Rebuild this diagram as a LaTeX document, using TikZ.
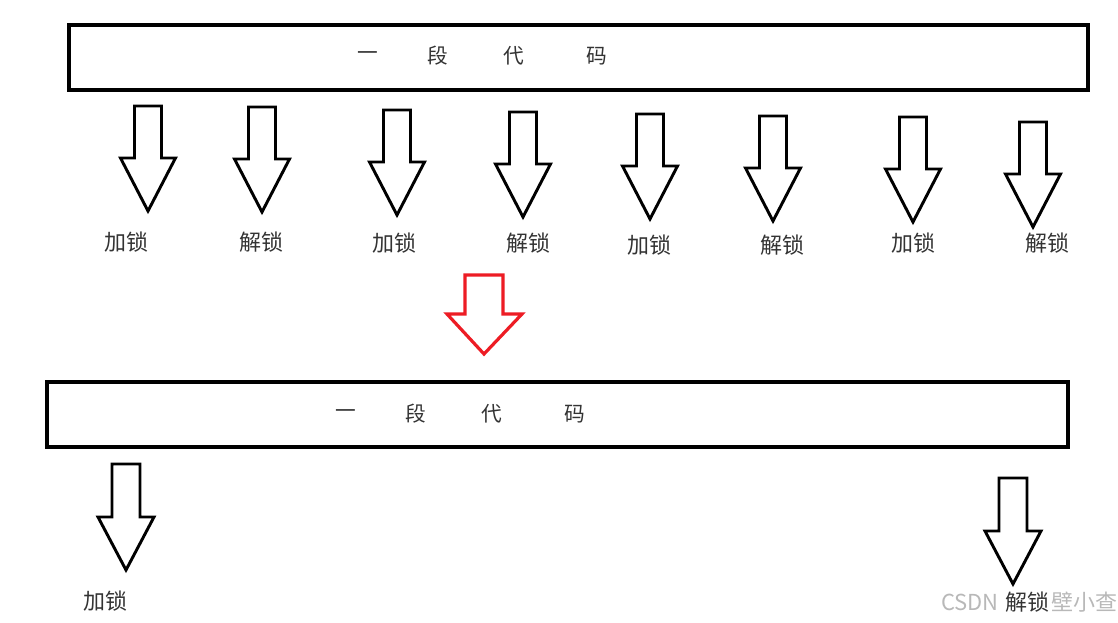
\documentclass[tikz,border=0pt]{standalone}
\usepackage{fontspec}
\newfontfamily\cjk{Noto Sans CJK SC}
\usetikzlibrary{positioning}
\definecolor{LockRed}{RGB}{237,28,36}
\tikzset{
  codebox/.style={draw=black,line width=3pt,minimum height=48.75pt,inner sep=0pt},
  codechar/.style={font=\cjk\fontsize{15.5}{15.5}\selectfont,text=black!80,inner sep=0pt},
  lockarrow/.style={draw=black,line width=2.2pt,line join=miter},
  turnarrow/.style={draw=LockRed,line width=2.4pt,line join=miter},
  locklabel/.style={font=\cjk\fontsize{16.5}{16.5}\selectfont,text=black!80,inner sep=0pt},
  wmtext/.style={font=\cjk\fontsize{16.5}{16.5}\selectfont,text=black!28,inner sep=0pt},
}
\begin{document}
\begin{tikzpicture}[x=0.75pt,y=-0.75pt]
  \useasboundingbox (0,0) rectangle (1118,622);

  % upper code block, locked piece by piece
  \node[codebox,minimum width=764.25pt] (code1) at (578.5,57.5) {};
  \foreach \x/\c in {368/一,438/段,514/代,597/码}
    \node[codechar] (c1\x) at (\x,56) {\c};

  \foreach \i/\x/\t/\lx/\ly/\txt in {1/148/106/126/242/加锁,2/262/107/261/242/解锁,
      3/397/110/394/243/加锁,4/523/112/528/243/解锁,5/650/114/649/245/加锁,
      6/773/116/782/245/解锁,7/913/117/913/243/加锁,8/1033/122/1047/243/解锁}
  {
    \draw[lockarrow] (\x-13.5,\t) -- (\x+13.5,\t) -- (\x+13.5,\t+52)
      -- (\x+27.5,\t+52) -- (\x,\t+105) -- (\x-27.5,\t+52) -- (\x-13.5,\t+52) -- cycle;
    \node[locklabel] (top\i) at (\lx,\ly) {\txt};
  }

  % red arrow between the two blocks
  \draw[turnarrow] (465,275) -- (503,275) -- (503,314) -- (522,314)
    -- (484,354) -- (447,314) -- (465,314) -- cycle;

  % lower code block, one lock round the whole
  \node[codebox,minimum width=765.75pt] (code2) at (557.5,414.5) {};
  \foreach \x/\c in {346/一,416/段,492/代,575/码}
    \node[codechar] (c2\x) at (\x,414) {\c};

  \foreach \i/\x/\t/\lx/\ly/\txt in {1/126/464/105/601/加锁,2/1013/478/1027/602/解锁}
  {
    \draw[lockarrow] (\x-14,\t) -- (\x+14,\t) -- (\x+14,\t+53)
      -- (\x+28,\t+53) -- (\x,\t+106) -- (\x-28,\t+53) -- (\x-14,\t+53) -- cycle;
    \node[locklabel] (bot\i) at (\lx,\ly) {\txt};
  }

  % watermark
  \node[wmtext] (wm1) at (970,602) {CSDN};
  \node[wmtext] (wm2) at (1084,602) {壁小查};
\end{tikzpicture}
\end{document}
